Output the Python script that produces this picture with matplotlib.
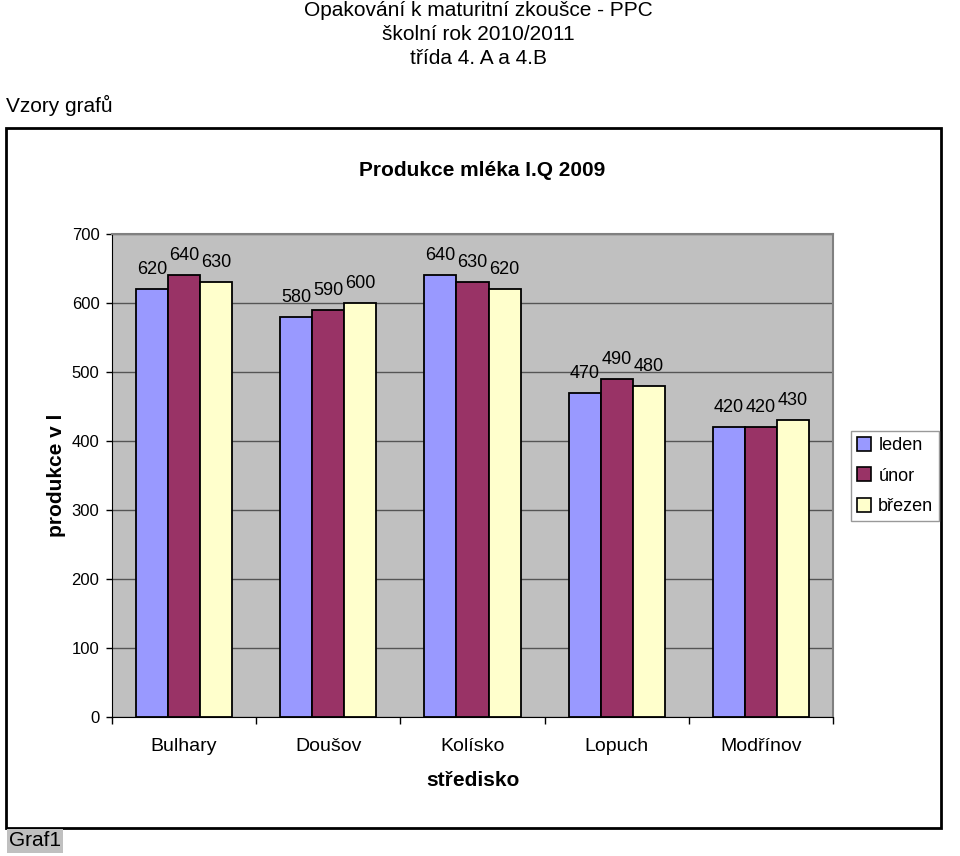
#!/usr/bin/env python3
"""Grouped bar chart: Produkce mléka I.Q 2009."""

import numpy as np
import matplotlib

matplotlib.use("Agg")
import matplotlib.pyplot as plt
from matplotlib.patches import Rectangle, Patch

plt.rcParams["font.family"] = ["Liberation Sans", "DejaVu Sans"]

strediska = ["Bulhary", "Doušov", "Kolísko", "Lopuch", "Modřínov"]
leden = [620, 580, 640, 470, 420]
unor = [640, 590, 630, 490, 420]
brezen = [630, 600, 620, 480, 430]
series_names = ["leden", "únor", "březen"]
colors = ["#9999FF", "#993366", "#FFFFCC"]

W, H = 960, 856
fig = plt.figure(figsize=(W / 100, H / 100), dpi=100)

# page header
for i, line in enumerate(["Opakování k maturitní zkoušce - PPC",
                          "školní rok 2010/2011", "třída 4. A a 4.B"]):
    fig.text(478 / W, 1 - (11 + i * 23.5) / H, line, ha="center", va="center",
             fontsize=15)
fig.text(6 / W, 1 - 105 / H, "Vzory grafů", ha="left", va="center",
         fontsize=15)

# chart frame
fig.patches.append(Rectangle((6 / W, 1 - 828 / H), 935 / W, 700 / H,
                             transform=fig.transFigure, fill=False,
                             edgecolor="black", linewidth=2))
fig.text(9 / W, 1 - 841 / H, "Graf1", ha="left", va="center", fontsize=15,
         bbox=dict(boxstyle="square,pad=0.1", facecolor="#C0C0C0",
                   edgecolor="none"))

ax = fig.add_axes([112 / W, 1 - 717 / H, 721 / W, 483 / H])
ax.set_facecolor("#C0C0C0")

x = np.arange(len(strediska))
bw = 0.222
for k, (vals, name, col) in enumerate(zip([leden, unor, brezen],
                                          series_names, colors)):
    bars = ax.bar(x + (k - 1) * bw, vals, bw, color=col, edgecolor="black",
                  linewidth=1.3, label=name, zorder=3)
    for b, v in zip(bars, vals):
        ax.annotate(str(v), (b.get_x() + b.get_width() / 2, v),
                    xytext=(0, 8), textcoords="offset points",
                    ha="center", va="bottom", fontsize=13)

ax.set_xlim(-0.5, len(strediska) - 0.5)
ax.set_ylim(0, 700)
ax.set_yticks(range(0, 701, 100))
ax.yaxis.grid(True, color="#555555", linewidth=1, zorder=1)
ax.set_axisbelow(True)

ax.set_xticks(x)
ax.set_xticklabels(strediska, fontsize=14)
ax.set_xticks(np.arange(-0.5, len(strediska)), minor=True)
ax.tick_params(axis="x", which="major", length=0, pad=15)
ax.tick_params(axis="x", which="minor", length=5, width=1, direction="out")
ax.tick_params(axis="y", labelsize=12, length=4, width=1, direction="out",
               pad=5)

for s in ["top", "right"]:
    ax.spines[s].set_color("#808080")
    ax.spines[s].set_linewidth(1.5)
ax.spines["left"].set_color("black")
ax.spines["bottom"].set_color("black")

ax.set_xlabel("středisko", fontsize=15, fontweight="bold", labelpad=12)
ax.set_ylabel("produkce v l", fontsize=15, fontweight="bold", labelpad=4)
fig.text(482 / W, 1 - 171 / H, "Produkce mléka I.Q 2009", ha="center",
         va="center", fontsize=15, fontweight="bold")

handles = [Patch(facecolor=c, edgecolor="black", linewidth=1.2) for c in colors]
leg = fig.legend(handles, series_names, loc="center",
                 bbox_to_anchor=(895 / W, 1 - 476 / H), fontsize=13,
                 frameon=True, fancybox=False, handlelength=0.8,
                 handleheight=0.8, handletextpad=0.4, labelspacing=0.75,
                 borderpad=0.3, borderaxespad=0)
leg.get_frame().set_edgecolor("#808080")
leg.get_frame().set_linewidth(1)

fig.savefig("out.png", dpi=100)
